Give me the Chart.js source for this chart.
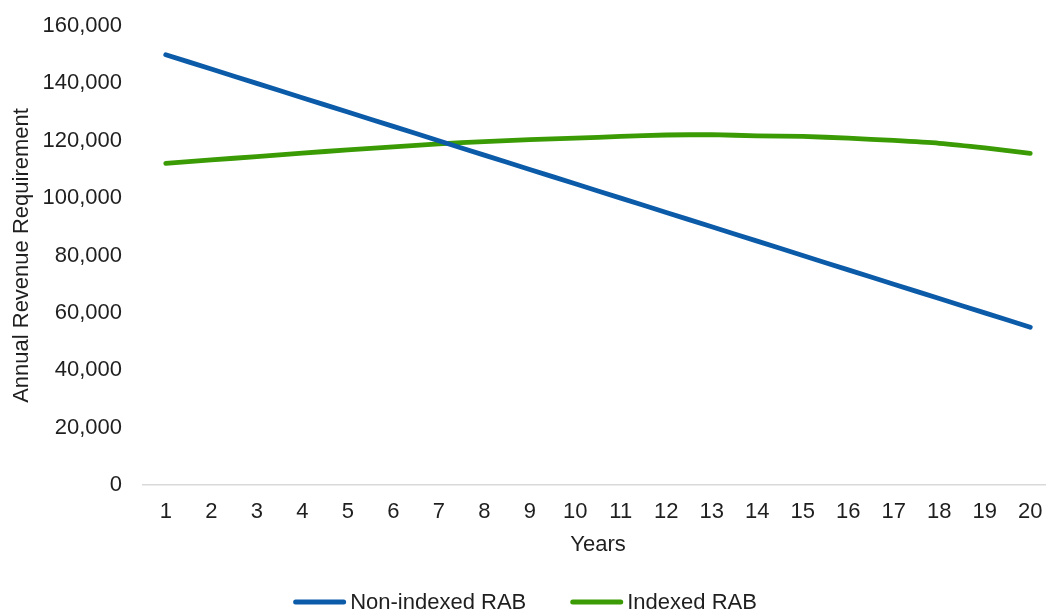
<!DOCTYPE html>
<html>
<head>
<meta charset="utf-8">
<script src="https://cdn.jsdelivr.net/npm/chart.js@4"></script>
<style>
  html, body { margin: 0; padding: 0; background: #ffffff; overflow: hidden; width: 1046px; height: 612px; }
  canvas { display: block; }
</style>
</head>
<body>
<canvas id="c" width="1060" height="612"></canvas>
<script>
// Years of the regulatory period
const years = ['1', '2', '3', '4', '5', '6', '7', '8', '9', '10',
               '11', '12', '13', '14', '15', '16', '17', '18', '19', '20'];

// Annual revenue requirement, non-indexed regulatory asset base
const nonIndexedRab = [150000, 145000, 140000, 135000, 130000, 125000, 120000, 115000, 110000, 105000,
                       100000, 95000, 90000, 85000, 80000, 75000, 70000, 65000, 60000, 55000];

// Annual revenue requirement, indexed regulatory asset base
const indexedRab = [112100, 113300, 114500, 115700, 116800, 117900, 118900, 119700, 120400, 120900,
                    121500, 122000, 122100, 121700, 121500, 120900, 120100, 119100, 117500, 115600];

// Value axis
const yMin = 0;
const yMax = 160000;
const yStep = 20000;

const seriesNames = ['Non-indexed RAB', 'Indexed RAB'];
const seriesColors = ['#0B5BA9', '#3A9B05'];

const FONT = '"Liberation Sans", Arial, sans-serif';
const TEXT = '#1f1f1f';

// Line-swatch legend drawn under the axis title
const lineLegend = {
  id: 'lineLegend',
  afterDraw(chart) {
    const ctx = chart.ctx;
    const swatch = 53, gap = 4, itemGap = 44, cy = 602, centerX = 525;
    ctx.save();
    ctx.font = '22px ' + FONT;
    const items = chart.data.datasets.map(ds => ({
      label: ds.label,
      color: ds.borderColor,
      w: swatch + gap + ctx.measureText(ds.label).width
    }));
    const total = items.reduce((s, it) => s + it.w, 0) + itemGap * (items.length - 1);
    let x = centerX - total / 2;
    items.forEach(it => {
      ctx.strokeStyle = it.color;
      ctx.lineWidth = 5;
      ctx.lineCap = 'round';
      ctx.beginPath();
      ctx.moveTo(x + 2.5, cy);
      ctx.lineTo(x + swatch - 2.5, cy);
      ctx.stroke();
      ctx.fillStyle = TEXT;
      ctx.textBaseline = 'middle';
      ctx.textAlign = 'left';
      ctx.fillText(it.label, x + swatch + gap, cy + 1);
      x += it.w + itemGap;
    });
    ctx.restore();
  }
};

new Chart(document.getElementById('c'), {
  type: 'line',
  data: {
    labels: years,
    datasets: [
      {
        label: seriesNames[0],
        data: nonIndexedRab,
        borderColor: seriesColors[0],
        backgroundColor: seriesColors[0],
        borderWidth: 4.8,
        borderCapStyle: 'round',
        borderJoinStyle: 'round',
        pointRadius: 0,
        tension: 0.2
      },
      {
        label: seriesNames[1],
        data: indexedRab,
        borderColor: seriesColors[1],
        backgroundColor: seriesColors[1],
        borderWidth: 4.8,
        borderCapStyle: 'round',
        borderJoinStyle: 'round',
        pointRadius: 0,
        tension: 0.2
      }
    ]
  },
  options: {
    responsive: false,
    animation: false,
    devicePixelRatio: 1,
    layout: { padding: { left: 0, right: 7, top: 26, bottom: 54 } },
    plugins: {
      legend: { display: false },
      tooltip: { enabled: false }
    },
    scales: {
      x: {
        offset: true,
        grid: { display: false, drawTicks: false },
        border: { display: true, color: '#D9D9D9', width: 1.5 },
        ticks: { color: TEXT, font: { family: FONT, size: 22 }, padding: 14, maxRotation: 0, autoSkip: false },
        title: { display: true, text: 'Years', color: TEXT, font: { family: FONT, size: 22 }, padding: { top: 0, bottom: 0 } },
        afterFit(scale) { scale.height = 73; }
      },
      y: {
        min: yMin,
        max: yMax,
        grid: { display: false, drawTicks: false },
        border: { display: false },
        ticks: {
          stepSize: yStep,
          color: TEXT,
          font: { family: FONT, size: 22 },
          padding: 21,
          callback: v => v.toLocaleString('en-US')
        },
        title: { display: true, text: 'Annual Revenue Requirement', color: TEXT, font: { family: FONT, size: 22 }, padding: { top: 9, bottom: 0 } },
        afterFit(scale) {
          scale.width = 143;
          scale.paddingTop = 0;
          scale.paddingBottom = 0;
        }
      }
    }
  },
  plugins: [lineLegend]
});
</script>
</body>
</html>
